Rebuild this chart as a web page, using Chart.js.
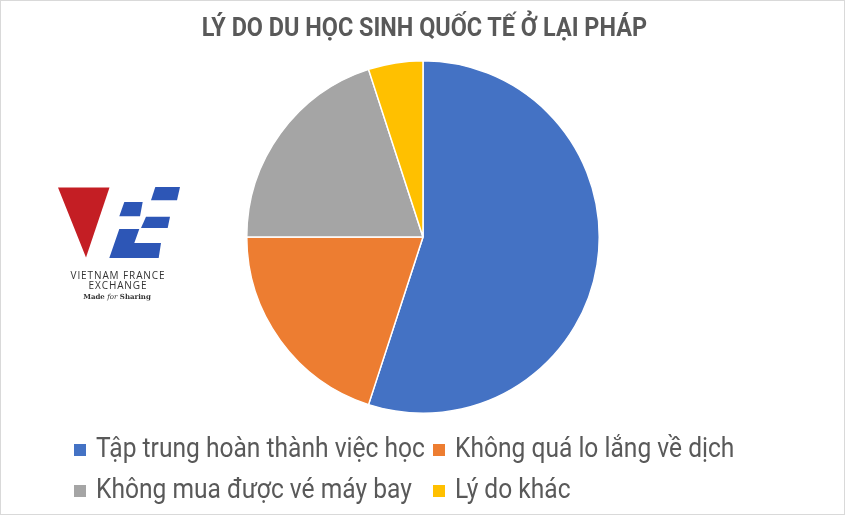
<!DOCTYPE html>
<html>
<head>
<meta charset="utf-8">
<script src="https://cdn.jsdelivr.net/npm/chart.js@4"></script>
<style>
	body { margin: 0; background: #fff; }
	#wrap { position: relative; width: 845px; height: 515px; box-sizing: border-box; border: 1px solid #d9d9d9; overflow: hidden; }
	#myChart { position: absolute; left: -1px; top: -1px; }
	#logo { position: absolute; left: 0; top: 0; }
	#title { position: absolute; left: 0; top: 11px; width: 845px; text-align: center; font-family: Roboto, sans-serif; font-weight: bold; font-size: 26px; line-height: 30px; color: #595959; }
	#title span { display: inline-block; transform: scaleX(0.9); white-space: nowrap; margin-left: 1px; }
	#legend { position: absolute; left: 0; top: 0; width: 845px; font-family: Roboto, sans-serif; font-size: 27px; color: #595959; }
	.item { position: absolute; white-space: nowrap; line-height: 30px; }
	.box { display: inline-block; width: 12px; height: 12px; margin-right: 10px; vertical-align: 1px; }
	.txt { display: inline-block; transform: scaleX(0.91); transform-origin: left center; }
</style>
</head>
<body>
<div id="wrap">
	<canvas id="myChart" width="845" height="515"></canvas>
	<svg id="logo" width="845" height="515">
		<polygon points="57,186.5 108.5,186.5 85,256.5" fill="#c41e24"/>
		<polygon points="154.3,186 179,186 176,199.3 150,199.3" fill="#2d56b6"/>
		<polygon points="123.3,201 141.7,201 139,215.3 118.3,215.3" fill="#2d56b6"/>
		<polygon points="145,215.8 169,215.8 166.7,227 140,227" fill="#2d56b6"/>
		<polygon points="118.3,228 138.3,228 133.3,242 160,242 157.7,257 108.3,257" fill="#2d56b6"/>
		<text x="117" y="278" text-anchor="middle" font-family="Open Sans, sans-serif" font-size="10" letter-spacing="0.9" fill="#333">VIETNAM FRANCE</text>
		<text x="117" y="288" text-anchor="middle" font-family="Open Sans, sans-serif" font-size="10" letter-spacing="0.9" fill="#333">EXCHANGE</text>
		<text x="116" y="298" text-anchor="middle" font-family="DejaVu Serif, serif" font-size="7" font-weight="bold" fill="#333">Made <tspan font-style="italic" font-weight="normal">for</tspan> Sharing</text>
	</svg>
	<div id="title"><span></span></div>
	<div id="legend"></div>
</div>
<script>
	labels = ['Tập trung hoàn thành việc học', 'Không quá lo lắng về dịch', 'Không mua được vé máy bay', 'Lý do khác'];
	values = [55, 20, 20, 5];
	colors = ['#4472c4', '#ed7d31', '#a5a5a5', '#ffc000'];
	titleText = 'LÝ DO DU HỌC SINH QUỐC TẾ Ở LẠI PHÁP';

	ctx = document.getElementById('myChart');
	chart = new Chart(ctx, {
		type: 'pie',
		data: {
			labels: labels,
			datasets: [{
				data: values,
				backgroundColor: colors,
				borderColor: '#ffffff',
				borderWidth: 1.5,
			}],
		},
		options: {
			responsive: false,
			animation: false,
			layout: { padding: { top: 60, bottom: 101, left: 1, right: 0 } },
			plugins: {
				legend: { display: false },
				tooltip: { enabled: false },
				title: { display: false },
			},
		},
	});

	document.querySelector('#title span').textContent = titleText;

	// legend laid out in two columns like the original
	legend = document.getElementById('legend');
	cols = [73, 432];
	rows = [432, 473];
	chart.data.labels.forEach(function(label, i) {
		el = document.createElement('div');
		el.className = 'item';
		el.style.left = cols[i % 2] + 'px';
		el.style.top = rows[Math.floor(i / 2)] + 'px';
		el.innerHTML = '<span class="box" style="background:' + chart.data.datasets[0].backgroundColor[i] + '"></span><span class="txt">' + label + '</span>';
		legend.appendChild(el);
	});
</script>
</body>
</html>
